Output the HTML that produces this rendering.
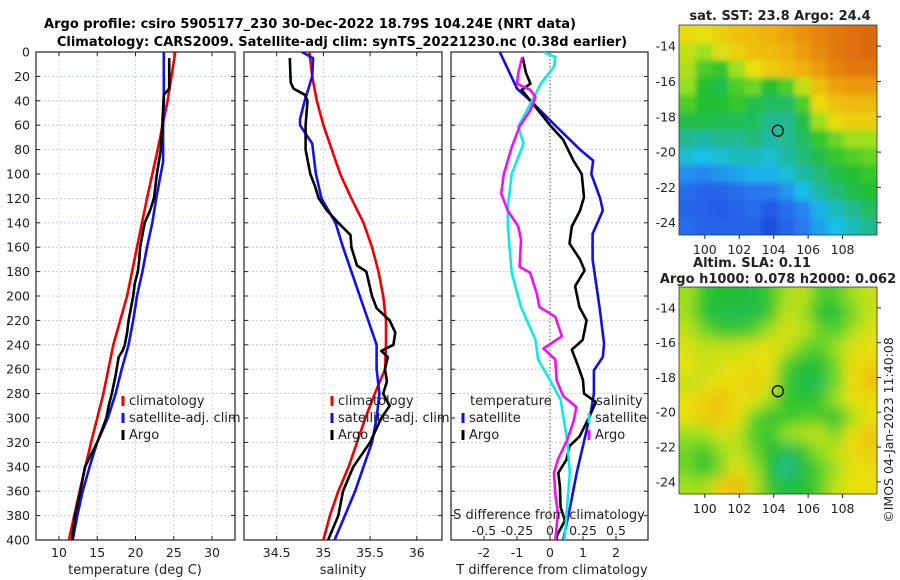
<!DOCTYPE html>
<html><head><meta charset="utf-8">
<style>
body{margin:0;background:#fff;}
svg{display:block;font-family:"DejaVu Sans","Liberation Sans",sans-serif;}
</style></head>
<body>
<svg id="fig" width="900" height="580" viewBox="0 0 900 580" xmlns="http://www.w3.org/2000/svg">
<defs>
<filter id="blurS" x="-5%" y="-5%" width="110%" height="110%"><feGaussianBlur stdDeviation="3"/></filter>
<filter id="blurL" x="-5%" y="-5%" width="110%" height="110%"><feGaussianBlur stdDeviation="7"/></filter>
<clipPath id="clipSST"><rect x="679" y="25" width="198" height="210"/></clipPath>
<clipPath id="clipSLA"><rect x="679" y="287" width="198" height="207"/></clipPath>
<clipPath id="clipP1"><rect x="36" y="52" width="199" height="488"/></clipPath>
<clipPath id="clipP2"><rect x="244" y="52" width="198" height="488"/></clipPath>
<clipPath id="clipP3"><rect x="451" y="52" width="197" height="488"/></clipPath>
</defs>
<text x="310" y="28" text-anchor="middle" font-size="13" font-weight="bold">Argo profile: csiro 5905177_230 30-Dec-2022 18.79S 104.24E (NRT data)</text>
<text x="342" y="46" text-anchor="middle" font-size="13" font-weight="bold">Climatology: CARS2009. Satellite-adj clim: synTS_20221230.nc (0.38d earlier)</text>
<g id="g"></g>
</svg>
<script>
// ---------- profile data ----------
const depthTicks = [0,20,40,60,80,100,120,140,160,180,200,220,240,260,280,300,320,340,360,380,400];
const tempTicks = [10,15,20,25,30];
const salTicks = [34.5,35,35.5,36];
const tdiffTicks = [-2,-1,0,1,2];
const sdiffTicks = [-0.5,-0.25,0,0.25,0.5];
const sdiffTickLabels = ["-0.5","-0.25","0","0.25","0.5"];

const tempClimDepth = [0,40,80,120,160,200,220,240,280,320,360,400];
const tempClimVal   = [25.2,24.2,22.9,21.5,20.2,18.9,18.0,17.1,15.8,14.2,12.7,11.3];
const tempSatDepth = [0,40,60,90,100,120,140,160,180,200,220,240,260,280,300,320,340,360,380,400];
const tempSatVal   = [23.7,23.7,23.6,23.6,23.3,22.7,22.2,21.5,20.9,20.2,19.7,19.1,18.2,17.4,16.4,15.0,14.0,13.1,12.4,11.8];
const tempArgoDepth = [5,30,35,60,80,100,120,130,140,150,160,170,180,190,200,210,220,230,240,245,250,265,280,290,300,320,340,350,360,380,400];
const tempArgoVal   = [24.4,24.4,23.7,23.5,23.3,22.8,22.4,21.9,21.2,20.9,20.6,20.5,20.3,19.9,19.7,19.4,19.1,18.9,18.6,18.3,17.8,17.4,16.9,16.5,16.2,15.0,13.4,13.1,12.8,12.1,11.7];

const salClimDepth = [0,20,40,60,80,100,120,140,160,180,200,220,240,260,280,300,320,340,360,380,400];
const salClimVal   = [34.85,34.88,34.93,35.0,35.09,35.18,35.30,35.43,35.52,35.59,35.64,35.67,35.67,35.66,35.55,35.45,35.36,35.27,35.16,35.07,35.0];
const salSatDepth = [0,5,20,40,55,60,75,100,120,140,160,180,200,220,240,260,280,300,320,340,360,380,400];
const salSatVal   = [34.77,34.89,34.88,34.80,34.75,34.75,34.88,34.92,34.98,35.13,35.21,35.30,35.39,35.48,35.57,35.57,35.60,35.57,35.52,35.43,35.34,35.23,35.12];
const salArgoDepth = [5,25,30,35,40,60,80,100,110,120,130,140,150,160,175,180,200,210,220,230,240,245,250,260,270,280,290,300,320,340,360,380,400];
const salArgoVal   = [34.64,34.65,34.68,34.80,34.83,34.81,34.81,34.86,34.91,34.95,35.04,35.16,35.29,35.30,35.36,35.46,35.52,35.57,35.71,35.77,35.75,35.62,35.69,35.66,35.68,35.64,35.71,35.62,35.50,35.32,35.21,35.16,35.05];

const tdSatDepth = [0,30,41,60,80,89,100,120,130,149,170,209,239,250,261,280,293,310,345,373,400];
const tdSatVal   = [-1.52,-1.0,-0.55,0.15,0.91,1.31,1.25,1.52,1.6,1.29,1.29,1.5,1.64,1.6,1.33,1.33,1.25,1.11,0.81,0.61,0.4];
const tdArgoDepth = [4,17,26,31,42,60,72,89,100,119,130,143,157,170,179,192,209,220,236,244,258,269,280,287,299,315,323,334,345,356,373,384,397,400];
const tdArgoVal   = [-0.83,-0.73,-0.59,-0.86,-0.53,0,0.4,0.71,0.96,1.03,0.91,0.66,0.59,0.91,1.05,0.76,0.89,1.11,0.99,0.66,0.86,1.0,1.03,1.39,1.19,0.9,0.59,0.5,0.25,0.3,0.32,0.45,0.2,0.2];
const sdSatDepth = [0,4,12,26,45,61,75,100,127,143,181,209,236,252,269,285,318,345,400];
const sdSatVal   = [-0.05,0.04,0.03,-0.07,-0.16,-0.24,-0.2,-0.29,-0.32,-0.32,-0.29,-0.22,-0.11,-0.09,0.0,0.08,0.13,0.15,0.11];
const sdArgoDepth = [4,17,26,31,37,48,61,78,100,116,130,143,154,176,181,198,209,217,233,243,252,269,282,291,302,318,334,345,362,378,400];
const sdArgoVal   = [-0.21,-0.24,-0.25,-0.15,-0.11,-0.15,-0.23,-0.29,-0.35,-0.37,-0.32,-0.24,-0.22,-0.23,-0.15,-0.10,-0.08,0.04,0.09,-0.05,0.04,0.05,0.10,0.20,0.18,0.13,0.06,0.03,0.04,0.06,0.04];

// ---------- map data (normalized colour index 0=blue .. 1=orange) ----------
const mapLon = [98.5,110];
const mapLat = [-12.8,-24.7];
const sstGrid = [
[.62,.6,.65,.7,.72,.75,.78,.82,.85,.88,.9,.92],
[.55,.5,.58,.65,.7,.72,.75,.8,.84,.88,.9,.92],
[.52,.42,.4,.5,.6,.66,.7,.75,.8,.85,.88,.88],
[.48,.38,.36,.42,.45,.38,.42,.55,.7,.78,.8,.8],
[.42,.38,.38,.4,.36,.34,.34,.42,.62,.7,.72,.72],
[.36,.36,.35,.35,.34,.3,.3,.36,.5,.62,.66,.66],
[.3,.28,.3,.3,.32,.28,.3,.34,.4,.45,.5,.5],
[.24,.22,.24,.26,.26,.24,.28,.32,.36,.4,.42,.44],
[.15,.14,.16,.18,.2,.2,.24,.28,.32,.36,.38,.4],
[.1,.08,.08,.1,.12,.12,.16,.22,.28,.32,.36,.38],
[.08,.08,.07,.08,.1,.06,.1,.14,.2,.26,.3,.34],
[.1,.08,.08,.08,.08,.04,.08,.12,.18,.22,.26,.3]];
const slaGrid = [
[.5,.4,.38,.38,.37,.4,.5,.55,.42,.42,.5,.55],
[.5,.38,.36,.35,.36,.4,.55,.5,.38,.37,.45,.55],
[.55,.45,.4,.4,.42,.5,.58,.55,.45,.42,.5,.58],
[.58,.55,.55,.55,.58,.6,.55,.45,.42,.5,.58,.6],
[.6,.55,.58,.6,.62,.6,.42,.38,.38,.45,.6,.65],
[.55,.58,.6,.62,.66,.58,.4,.36,.35,.45,.6,.7],
[.6,.65,.7,.62,.6,.5,.4,.38,.4,.5,.6,.62],
[.6,.66,.68,.6,.45,.4,.4,.42,.42,.38,.5,.6],
[.5,.5,.58,.55,.42,.4,.48,.52,.55,.45,.6,.68],
[.45,.4,.48,.55,.45,.38,.35,.4,.48,.55,.62,.66],
[.45,.38,.45,.6,.5,.38,.3,.36,.42,.5,.6,.62],
[.5,.5,.65,.72,.55,.4,.36,.38,.42,.55,.6,.6]];
const argoLon = 104.24, argoLat = -18.79;
const mapXTicks = [100,102,104,106,108];
const mapYTicks = [-14,-16,-18,-20,-22,-24];

// ---------- drawing ----------
const NS="http://www.w3.org/2000/svg";
const G=document.getElementById('g');
function el(tag,attrs,parent){const e=document.createElementNS(NS,tag);for(const k in attrs)e.setAttribute(k,attrs[k]);(parent||G).appendChild(e);return e;}
function txt(x,y,s,size,anchor,parent){const t=el('text',{x:x,y:y,'font-size':size,'text-anchor':anchor||'middle',fill:'#222'},parent);t.textContent=s;return t;}
const Y0=52,Y1=540;
const yD=d=>Y0+(d/400)*(Y1-Y0);
const xT=v=>36+(v-7)/(33-7)*199;
const xS=v=>244+(v-34.15)/(36.27-34.15)*198;
const xTD=v=>550+v*33;
const xSD=v=>550+v*132;

function panel(x0,x1,name,vticks,xf,clip){
  const g=el('g',{});
  
  
  depthTicks.forEach(d=>{el('line',{x1:x0,x2:x1,y1:yD(d),y2:yD(d),stroke:'#b8c4ec','stroke-width':0.8,'stroke-dasharray':'2,2'},g);
    el('line',{x1:x0,x2:x0+4,y1:yD(d),y2:yD(d),stroke:'#222'},g);
    el('line',{x1:x1-4,x2:x1,y1:yD(d),y2:yD(d),stroke:'#222'},g);});
  vticks.forEach(v=>{const x=xf(v);
    el('line',{x1:x,x2:x,y1:Y0,y2:Y1,stroke:'#d8c4dc','stroke-width':0.8,'stroke-dasharray':'2,2'},g);
    el('line',{x1:x,x2:x,y1:Y1-4,y2:Y1,stroke:'#222'},g);
    el('line',{x1:x,x2:x,y1:Y0,y2:Y0+4,stroke:'#222'},g);});
  el('rect',{x:x0,y:Y0,width:x1-x0,height:Y1-Y0,fill:'none',stroke:'#222','stroke-width':1.2},g);
  return g;
}
function series(depths,vals,xf,color,name,clip,w){
  const pts=depths.map((d,i)=>xf(vals[i]).toFixed(1)+','+yD(d).toFixed(1)).join(' ');
  const p=el('polyline',{points:pts,fill:'none',stroke:color,'stroke-width':w||2.6,'stroke-linejoin':'round','clip-path':'url(#'+clip+')'});
  
  
}
depthTicks.forEach(d=>{const t=txt(30,yD(d)+4.5,String(d),12.5,'end');
  
  });

panel(36,235,'temperature-panel',tempTicks,xT);
tempTicks.forEach(v=>{const t=txt(xT(v),557,String(v),12.5);});
let t1=txt(135,574,'temperature (deg C)',13);
series(tempClimDepth,tempClimVal,xT,'#f00000','temp-climatology-line','clipP1');
series(tempSatDepth,tempSatVal,xT,'#1010f0','temp-satellite-line','clipP1');
series(tempArgoDepth,tempArgoVal,xT,'#000','temp-argo-line','clipP1');

panel(244,442,'salinity-panel',salTicks,xS);
salTicks.forEach(v=>{const t=txt(xS(v),557,String(v),12.5);});
let t2=txt(343,574,'salinity',13);
series(salClimDepth,salClimVal,xS,'#f00000','sal-climatology-line','clipP2');
series(salSatDepth,salSatVal,xS,'#1010f0','sal-satellite-line','clipP2');
series(salArgoDepth,salArgoVal,xS,'#000','sal-argo-line','clipP2');

panel(451,648,'difference-panel',[],xTD);
el('line',{x1:550,x2:550,y1:Y0,y2:Y1,stroke:'#555','stroke-width':1,'stroke-dasharray':'1.5,2'});
tdiffTicks.forEach(v=>{const x=xTD(v);el('line',{x1:x,x2:x,y1:Y1-4,y2:Y1,stroke:'#222'});
  const t=txt(x,557,String(v),12.5);});
let t3=txt(552,574,'T difference from climatology',13);
series(tdSatDepth,tdSatVal,xTD,'#1010e0','tdiff-satellite-line','clipP3');
series(tdArgoDepth,tdArgoVal,xTD,'#000','tdiff-argo-line','clipP3');
series(sdSatDepth,sdSatVal,xSD,'#10e8e8','sdiff-satellite-line','clipP3');
series(sdArgoDepth,sdArgoVal,xSD,'#f010f0','sdiff-argo-line','clipP3');
let t4=txt(549,519,'S difference from climatology',13);
sdiffTicks.forEach((v,i)=>{const t=txt(xSD(v),535,sdiffTickLabels[i],12.5);});

function legend(x,y,items,name){
  const g=el('g',{});
  
  
  items.forEach((it,i)=>{const yy=y+i*17;
    if(it[1]) el('line',{x1:x,x2:x,y1:yy-9,y2:yy+1,stroke:it[1],'stroke-width':3},g);
    txt(x+6,yy,it[0],13,'start',g);});
}
legend(123,405,[['climatology','#f00000'],['satellite-adj. clim','#1010f0'],['Argo','#000']],'temp-legend');
legend(332,405,[['climatology','#f00000'],['satellite-adj. clim','#1010f0'],['Argo','#000']],'sal-legend');
legend(464,405,[['temperature',null]],'tdiff-legend-title');
legend(463,422,[['satellite','#1010e0'],['Argo','#000']],'tdiff-legend');
legend(590,405,[['salinity',null]],'sdiff-legend-title');
legend(589,422,[['satellite','#10e8e8'],['Argo','#f010f0']],'sdiff-legend');

const cstops=[[0,[26,58,216]],[0.12,[42,120,240]],[0.22,[24,192,232]],[0.3,[32,184,144]],[0.38,[32,192,48]],[0.48,[144,224,32]],[0.6,[232,224,16]],[0.75,[240,176,16]],[0.9,[224,112,16]],[1,[200,80,16]]];
function cmap(v){for(let i=1;i<cstops.length;i++){if(v<=cstops[i][0]){const a=cstops[i-1],b=cstops[i];const f=(v-a[0])/(b[0]-a[0]);
  const c=a[1].map((q,k)=>Math.round(q+(b[1][k]-q)*f));return 'rgb('+c.join(',')+')';}}return 'rgb(200,80,16)';}
function drawMap(grid,x0,y0,w,h,clip,filter,name){
  const gm=el('g',{'clip-path':'url(#'+clip+')'});
  
  
  el('rect',{x:x0,y:y0,width:w,height:h,fill:cmap(0.5)},gm);
  const inner=el('g',{filter:'url(#'+filter+')'},gm);
  const rows=grid.length,cols=grid[0].length,cw=w/cols,ch=h/rows;
  grid.forEach((row,r)=>row.forEach((v,c)=>{
    let x=x0+c*cw,y=y0+r*ch,ww=cw+0.6,hh=ch+0.6;
    if(c===0){x-=15;ww+=15;} if(c===cols-1){ww+=15;} if(r===0){y-=15;hh+=15;} if(r===rows-1){hh+=15;}
    const cell=el('rect',{x:x,y:y,width:ww,height:hh,fill:cmap(v)},inner);
    
    
  }));
  const lx=v=>x0+(v-mapLon[0])/(mapLon[1]-mapLon[0])*w;
  const ly=v=>y0+(v-mapLat[0])/(mapLat[1]-mapLat[0])*h;
  const mk=el('circle',{cx:lx(argoLon),cy:ly(argoLat),r:5.5,fill:'none',stroke:'#000','stroke-width':1.3});
  
  
  el('rect',{x:x0,y:y0,width:w,height:h,fill:'none',stroke:'#333','stroke-width':0.8});
  mapXTicks.forEach(v=>{const x=lx(v);el('line',{x1:x,x2:x,y1:y0+h,y2:y0+h+4,stroke:'#222'});
    const t=txt(x,y0+h+19,String(v),12.5);});
  mapYTicks.forEach(v=>{const y=ly(v);el('line',{x1:x0+w,x2:x0+w+4,y1:y,y2:y,stroke:'#222'});
    const t=txt(x0-3,y+4.5,String(v),12.5,'end');});
}
drawMap(sstGrid,679,25,198,210,'clipSST','blurS','sst-map');
drawMap(slaGrid,679,287,198,207,'clipSLA','blurL','sla-map');
let m1=txt(780,20,'sat. SST: 23.8 Argo: 24.4',13);m1.setAttribute('font-weight','bold');
let m2=txt(752,267,'Altim. SLA: 0.11',13);m2.setAttribute('font-weight','bold');
let m3=txt(778,283,'Argo h1000: 0.078 h2000: 0.062',13);m3.setAttribute('font-weight','bold');
let cr=txt(0,0,'©IMOS 04-Jan-2023 11:40:08',12.5);
cr.setAttribute('transform','translate(893,430) rotate(-90)');


</script>
</body></html>
